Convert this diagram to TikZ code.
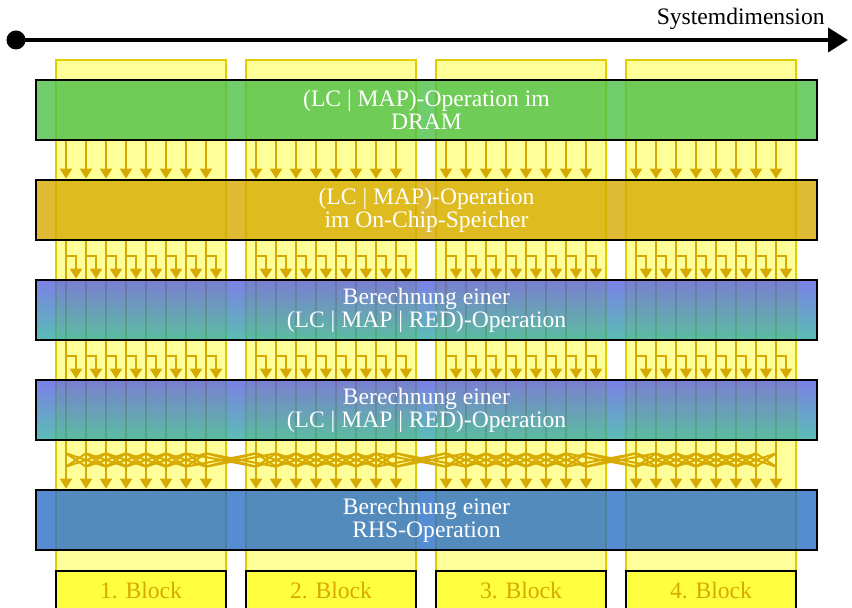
\documentclass[tikz,border=0pt]{standalone}
\usepackage{fontspec}
\setmainfont{Liberation Serif}
\usepackage{tikz}
\usetikzlibrary{arrows.meta,positioning,calc,backgrounds}
\definecolor{lanegold}{HTML}{D6AA00}
\definecolor{colfill}{HTML}{FFFF99}
\definecolor{colrule}{HTML}{E1CD00}
\definecolor{blockfill}{HTML}{FFFF40}
\definecolor{dramgreen}{HTML}{4CC046}
\definecolor{calctop}{HTML}{5960E0}
\definecolor{calcbot}{HTML}{31AEA2}
\definecolor{rhsblue}{HTML}{2A6FC7}

\begin{document}
\begin{tikzpicture}[x=0.5pt,y=-0.5pt,font=\fontsize{11.8}{11.5}\selectfont,
  row/.style={draw=black,line width=1.3pt,minimum width=390.5pt,minimum height=30pt,inner sep=0pt,
    fill opacity=0.8,text opacity=1,text=white,align=center},
  lane/.style={lanegold,line width=1pt},
  flow/.style={lane,-{Triangle[length=5pt,width=6pt]}},
  blocklabel/.style={draw=black,line width=1pt,fill=blockfill,text=lanegold,minimum width=85pt,minimum height=19pt,inner sep=0pt}]
  \useasboundingbox (0,0) rectangle (852,608);
  % Operationen
  \node[row,fill=dramgreen]  (dram)   at (426.5,110) {(LC | MAP)-Operation im\\DRAM};
  \node[row,fill=lanegold]   (onchip) at (426.5,210) {(LC | MAP)-Operation\\im On-Chip-Speicher};
  \node[row,top color=calctop,bottom color=calcbot] (calcA) at (426.5,310) {Berechnung einer\\(LC | MAP | RED)-Operation};
  \node[row,top color=calctop,bottom color=calcbot] (calcB) at (426.5,410) {Berechnung einer\\(LC | MAP | RED)-Operation};
  \node[row,fill=rhsblue]    (rhs)    at (426.5,520) {Berechnung einer\\RHS-Operation};
  \begin{scope}[on background layer]
  % Spalten je Block
  \foreach \b in {0,...,3}{\draw[fill=colfill,draw=colrule,line width=1pt] (56+190*\b,60) rectangle (226+190*\b,640);
    \foreach \i in {0,...,7}{\pgfmathtruncatemacro\n{8*\b+\i}
      \coordinate (lane\n) at (66+190*\b+20*\i,0);}}
  % Datenfluss
  \foreach \n in {0,...,31}{
    \draw[flow] (lane\n |- dram.south) -- (lane\n |- onchip.north);
    \draw[flow] (lane\n |- onchip.south) -- (lane\n |- rhs.north);
    \draw[flow] ($(lane\n |- onchip.south)+(0,15)$) -| ($(lane\n |- calcA.north)+(10,0)$);
    \draw[flow] ($(lane\n |- calcA.south)+(0,15)$) -| ($(lane\n |- calcB.north)+(10,0)$);
    \coordinate (xa\n) at ($(lane\n |- calcB.south)+(0,12)$);
    \coordinate (xb\n) at ($(lane\n |- rhs.north)+(0,-22)$);}
  \foreach \n in {0,...,31}{\foreach \d in {-2,-1,1,2}{\pgfmathtruncatemacro\m{\n+\d}
    \ifnum\m>-1 \ifnum\m<32 \draw[lane] (xa\n) -- (xb\m); \fi\fi}}
  \end{scope}
  % Bloecke
  \foreach \b in {1,...,4}{\node[blocklabel] (blk\b) at (141+190*\b-190,590) {\b. Block};}
  % Achse
  \node[circle,fill=black,inner sep=0pt,minimum size=9.5pt] (origin) at (16,40) {};
  \coordinate (axisend) at (848,40);
  \draw[line width=2pt,-{Triangle[length=10pt,width=12pt]}] (origin.center) -- (axisend);
  \node[anchor=base east,inner sep=0pt] (dimlabel) at (825,25) {Systemdimension};
\end{tikzpicture}
\end{document}
